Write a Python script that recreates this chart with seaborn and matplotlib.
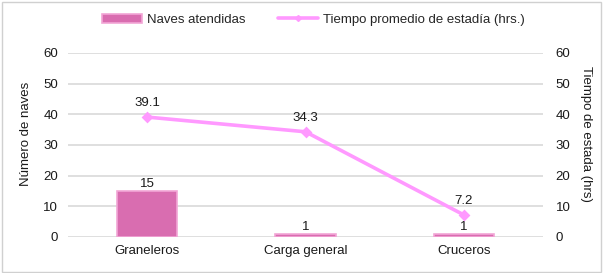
import matplotlib
matplotlib.use("Agg")
import matplotlib.pyplot as plt
import seaborn as sns
from matplotlib.patches import Patch, Rectangle
from matplotlib.lines import Line2D

categories = ["Graneleros", "Carga general", "Cruceros"]
naves = [15, 1, 1]
horas = [39.1, 34.3, 7.2]
ticks = [0, 10, 20, 30, 40, 50, 60]

sns.set_theme(style="white")
plt.rcParams['font.family'] = ['Liberation Sans', 'DejaVu Sans']
plt.rcParams['font.size'] = 9.5

bar_color = "#d96db0"
bar_edge = "#f2a6d6"
line_color = "#ff99ff"
grid_color = "#d9d9d9"
text_color = "#1a1a1a"

fig = plt.figure(figsize=(6.03, 2.73), dpi=100)
ax = fig.add_axes([0.1128, 0.1319, 0.7877, 0.6741])
ax2 = ax.twinx()

sns.barplot(x=categories, y=naves, ax=ax, color=bar_color, width=0.38,
            edgecolor=bar_edge, linewidth=1.2, saturation=1)
sns.pointplot(x=categories, y=horas, ax=ax2, color=line_color, markers="D",
              markersize=4, linewidth=2.6)

for a in (ax, ax2):
    a.set_ylim(0, 60)
    a.set_yticks(ticks)
    for s in a.spines.values():
        s.set_visible(False)
    a.tick_params(axis="both", length=0, labelsize=9.5, colors=text_color)

ax.set_xlim(-0.5, 2.5)
ax.yaxis.grid(True, color=grid_color, linewidth=1.2)
ax.set_axisbelow(True)
ax.tick_params(axis="y", pad=7)
ax2.tick_params(axis="y", pad=9)
ax.tick_params(axis="x", pad=6)

ax.set_ylabel("Número de naves", fontsize=9.5, color=text_color)
ax.yaxis.set_label_coords(-0.088, 0.56)
ax.yaxis.label.set_va("center")
ax2.set_ylabel("Tiempo de estada (hrs)", fontsize=9.5, color=text_color,
               rotation=270)
ax2.yaxis.set_label_coords(1.09, 0.56)
ax2.yaxis.label.set_va("center")

for i, v in enumerate(naves):
    ax.text(i, v + 0.4, f"{v}", ha="center", va="bottom", fontsize=9.5, color=text_color)
for i, v in enumerate(horas):
    ax2.text(i, v + 2.6, f"{v}", ha="center", va="bottom", fontsize=9.5, color=text_color)

handles = [Patch(facecolor=bar_color, edgecolor=bar_edge, linewidth=1.2),
           Line2D([0], [0], color=line_color, linewidth=2.6, marker="D", markersize=3)]
fig.legend(handles, ["Naves atendidas", "Tiempo promedio de estadía (hrs.)"],
           loc="center", bbox_to_anchor=(0.52, 0.928), ncol=2, frameon=False,
           fontsize=9.5, handlelength=3.0, handleheight=0.7, columnspacing=2.5,
           handletextpad=0.4)

fig.add_artist(Rectangle((0.003, 0.004), 0.994, 0.99, transform=fig.transFigure,
                         fill=False, edgecolor="#d0d0d0", linewidth=1))

fig.savefig("out.png", dpi=100)
